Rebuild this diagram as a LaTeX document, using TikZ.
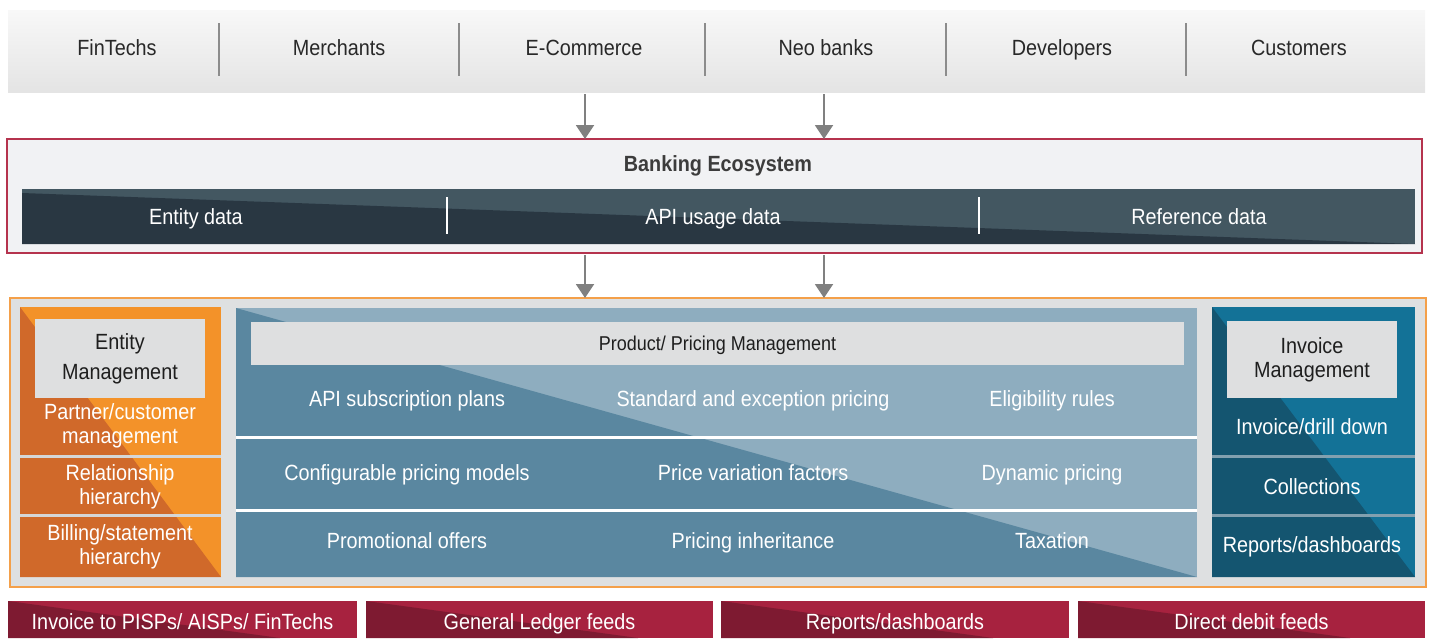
\documentclass[tikz,border=0pt]{standalone}
\usepackage{fontspec}
\setmainfont{Liberation Sans}[FakeStretch=0.9]
\usetikzlibrary{fit,arrows.meta,calc}
\definecolor{topA}{RGB}{248,248,248}
\definecolor{topB}{RGB}{228,228,228}
\definecolor{sepgray}{RGB}{140,140,140}
\definecolor{arrgray}{RGB}{128,128,128}
\definecolor{crimson}{RGB}{181,51,78}
\definecolor{bankbg}{RGB}{241,242,244}
\definecolor{bandlight}{RGB}{67,87,97}
\definecolor{banddark}{RGB}{41,55,66}
\definecolor{orborder}{RGB}{244,160,74}
\definecolor{mainbg}{RGB}{222,224,225}
\definecolor{innerbg}{RGB}{222,223,224}
\definecolor{orlight}{RGB}{243,146,41}
\definecolor{ordark}{RGB}{208,105,42}
\definecolor{cenlight}{RGB}{142,173,191}
\definecolor{cendark}{RGB}{90,135,160}
\definecolor{invlight}{RGB}{19,114,151}
\definecolor{invdark}{RGB}{20,85,112}
\definecolor{invsep}{RGB}{130,160,175}
\definecolor{redlight}{RGB}{167,34,63}
\definecolor{reddark}{RGB}{126,26,49}
\definecolor{darktext}{RGB}{40,40,40}
\tikzset{
  area/.style={inner sep=0pt, outer sep=0pt, draw=none},
  mlbl/.style={inner sep=0pt, font=\fontsize{11}{12}\selectfont, text=white, align=center},
  lbl/.style={mlbl, text height=7.9pt, text depth=0pt},
  dlbl/.style={lbl, text=darktext},
  arr/.style={draw=arrgray, line width=1pt, -{Triangle[width=9pt,length=7pt]}, shorten <=1pt},
  topsep/.style={draw=sepgray, line width=0.8pt},
}
\begin{document}
\begin{tikzpicture}[x=0.5pt,y=-0.5pt]
\useasboundingbox (0,0) rectangle (1433,638);
% top bar
\node[area, fit={(8,10)(1425,92)}, top color=topA, bottom color=topB] (top) {};
\foreach \x in {219,459,705,946,1186} \draw[topsep] (\x,23) -- (\x,76);
\node[dlbl] (t1) at (117,48) {FinTechs};
\node[dlbl] (t2) at (339,48) {Merchants};
\node[dlbl] (t3) at (584,48) {E-Commerce};
\node[dlbl] (t4) at (826,48) {Neo banks};
\node[dlbl] (t5) at (1062,48) {Developers};
\node[dlbl] (t6) at (1299,48) {Customers};
% banking ecosystem
\node[area, fit={(7,139)(1422,253)}, draw=crimson, line width=0.75pt, fill=bankbg] (bank) {};
\node[dlbl, font=\fontsize{11}{12}\selectfont\bfseries, text={rgb,255:red,60;green,60;blue,60}] (banktitle) at (718,164) {Banking Ecosystem};
\node[area, fit={(22,189)(1415,244)}, fill=bandlight] (band) {};
\fill[banddark] ($(band.north west)+(0,4)$) -- (band.south east) -- (band.south west) -- cycle;
\draw[white, line width=0.6pt] (447,197) -- (447,234);
\draw[white, line width=0.6pt] (979,197) -- (979,234);
\node[lbl] (bd1) at (196,217) {Entity data};
\node[lbl] (bd2) at (713,217) {API usage data};
\node[lbl] (bd3) at (1199,217) {Reference data};
% main area
\node[area, fit={(10,298)(1426,587)}, draw=orborder, line width=0.75pt, fill=mainbg] (main) {};
% arrows
\coordinate (a1) at (585,0);
\coordinate (a2) at (824,0);
\draw[arr] (top.south -| a1) -- (bank.north -| a1);
\draw[arr] (top.south -| a2) -- (bank.north -| a2);
\draw[arr] (bank.south -| a1) -- (main.north -| a1);
\draw[arr] (bank.south -| a2) -- (main.north -| a2);
% entity management column
\node[area, fit={(20,307)(221,577)}, fill=orlight] (ent) {};
\fill[ordark] (ent.north west) -- (ent.south east) -- (ent.south west) -- cycle;
\node[area, fit={(35,319)(205,398)}, fill=innerbg] (entbox) {};
\node[mlbl, font=\fontsize{11}{15}\selectfont, text={rgb,255:red,30;green,30;blue,30}] (enttitle) at (entbox.center) {Entity\\Management};
\draw[mainbg!90!gray, line width=1.5pt] (ent.west |- 0,456) -- (ent.east |- 0,456);
\draw[mainbg!90!gray, line width=1.5pt] (ent.west |- 0,515) -- (ent.east |- 0,515);
\node[mlbl] (e1) at (120,426) {Partner/customer\\management};
\node[mlbl] (e2) at (120,487) {Relationship\\hierarchy};
\node[mlbl] (e3) at (120,547) {Billing/statement\\hierarchy};
% product / pricing column
\node[area, fit={(236,308)(1197,577)}, fill=cenlight] (cen) {};
\fill[cendark] (cen.north west) -- (cen.south east) -- (cen.south west) -- cycle;
\node[area, fit={(251,322)(1184,365)}, fill=innerbg] (cenbox) {};
\node[dlbl, font=\fontsize{10}{12}\selectfont, text height=7.2pt, text={rgb,255:red,30;green,30;blue,30}] (centitle) at (cenbox.center) {Product/ Pricing Management};
\draw[white, line width=1.5pt] (cen.west |- 0,437) -- (cen.east |- 0,437);
\draw[white, line width=1.5pt] (cen.west |- 0,510) -- (cen.east |- 0,510);
\node[lbl] (p11) at (407,399) {API subscription plans};
\node[lbl] (p12) at (753,399) {Standard and exception pricing};
\node[lbl] (p13) at (1052,399) {Eligibility rules};
\node[lbl] (p21) at (407,473) {Configurable pricing models};
\node[lbl] (p22) at (753,473) {Price variation factors};
\node[lbl] (p23) at (1052,473) {Dynamic pricing};
\node[lbl] (p31) at (407,541) {Promotional offers};
\node[lbl] (p32) at (753,541) {Pricing inheritance};
\node[lbl] (p33) at (1052,541) {Taxation};
% invoice management column
\node[area, fit={(1212,307)(1415,577)}, fill=invlight] (inv) {};
\fill[invdark] (inv.north west) -- (inv.south east) -- (inv.south west) -- cycle;
\node[area, fit={(1227,321)(1397,398)}, fill=innerbg] (invbox) {};
\node[mlbl, font=\fontsize{11}{12}\selectfont, text={rgb,255:red,30;green,30;blue,30}] (invtitle) at (invbox.center) {Invoice\\Management};
\draw[invsep, line width=1.5pt] (inv.west |- 0,456) -- (inv.east |- 0,456);
\draw[invsep, line width=1.5pt] (inv.west |- 0,515) -- (inv.east |- 0,515);
\node[lbl] (i1) at (1312,427) {Invoice/drill down};
\node[lbl] (i2) at (1312,487) {Collections};
\node[lbl] (i3) at (1312,545) {Reports/dashboards};
% bottom outputs
\foreach \n/\a/\b/\t in {b1/8/357/{Invoice to PISPs/ AISPs/ FinTechs},
                        b2/366/713/{General Ledger feeds},
                        b3/721/1069/{Reports/dashboards},
                        b4/1078/1425/{Direct debit feeds}} {
  \node[area, fit={(\a,601)(\b,638)}, fill=redlight] (\n) {};
  \fill[reddark] (\n.north west) -- ($(\n.north west)+(272,37)$) -- (\n.south west) -- cycle;
  \node[lbl] (\n t) at ($(\n.center)+(0,2)$) {\t};
}
\end{tikzpicture}
\end{document}
